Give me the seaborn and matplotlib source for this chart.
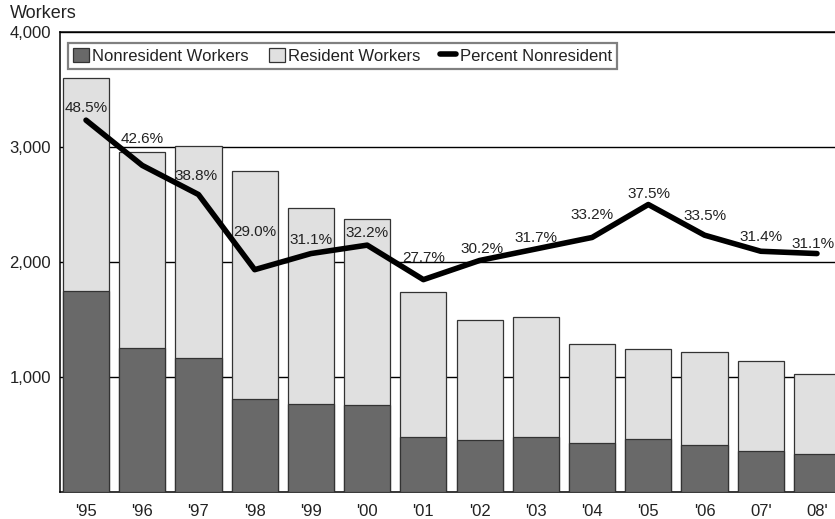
import matplotlib
matplotlib.use('Agg')
import matplotlib.pyplot as plt
import seaborn as sns
import numpy as np
import pandas as pd
from matplotlib.patches import Patch
from matplotlib.lines import Line2D

# ---- data ----
years = ["'95", "'96", "'97", "'98", "'99", "'00", "'01", "'02", "'03", "'04", "'05", "'06", "07'", "08'"]
nonresident_workers = [1745, 1255, 1165, 805, 765, 760, 475, 450, 480, 425, 465, 405, 355, 330]
resident_workers = [1855, 1705, 1845, 1990, 1705, 1615, 1265, 1045, 1045, 865, 775, 810, 780, 700]
percent_nonresident = [48.5, 42.6, 38.8, 29.0, 31.1, 32.2, 27.7, 30.2, 31.7, 33.2, 37.5, 33.5, 31.4, 31.1]
percent_labels = ["48.5%", "42.6%", "38.8%", "29.0%", "31.1%", "32.2%", "27.7%",
                  "30.2%", "31.7%", "33.2%", "37.5%", "33.5%", "31.4%", "31.1%"]
y_ticks = [1000, 2000, 3000, 4000]
y_tick_labels = ["1,000", "2,000", "3,000", "4,000"]
legend_labels = ["Nonresident Workers", "Resident Workers", "Percent Nonresident"]

# ---- style ----
label_offsets_px = [(0, 12), (0, 26), (-2, 19), (0, 38), (0, 14), (0, 12), (0, 22),
                    (2, 11), (0, 11), (0, 22), (1, 11), (0, 19), (0, 14), (-4, 10)]
dark = '#696969'
light = '#e0e0e0'
edge = '#333333'
FS_TICK = 12
FS_LEG = 12
FS_LAB = 11
FS_TITLE = 13

sns.set_style('white')
plt.rcParams['font.family'] = ['Liberation Sans', 'DejaVu Sans']

W, H = 835, 519
fig = plt.figure(figsize=(W / 100, H / 100), dpi=100)
ax_left, ax_right, ax_top, ax_bottom = 60, 843, 32, 492
ax = fig.add_axes([ax_left / W, (H - ax_bottom) / H, (ax_right - ax_left) / W, (ax_bottom - ax_top) / H])

df = pd.DataFrame({'year': years,
                   'nonres': nonresident_workers,
                   'res': resident_workers})
df['total'] = df['nonres'] + df['res']

sns.barplot(data=df, x='year', y='total', order=years, color=light, saturation=1,
            edgecolor=edge, linewidth=0.9, width=0.82, errorbar=None, ax=ax, zorder=2)
sns.barplot(data=df, x='year', y='nonres', order=years, color=dark, saturation=1,
            edgecolor=edge, linewidth=0.9, width=0.82, errorbar=None, ax=ax, zorder=3)

ax.set_ylim(0, 4000)
ax.set_xlim(-0.4626, 13.4626)
ax.set_yticks(y_ticks, y_tick_labels)
ax.set_xlabel('')
ax.set_ylabel('')
ax.tick_params(axis='y', length=0, pad=6.5, labelsize=FS_TICK, colors='#222222')
ax.tick_params(axis='x', length=0, pad=8.5, labelsize=FS_TICK, colors='#222222')
ax.set_axisbelow(True)
ax.yaxis.grid(True, color='black', lw=1.0)
ax.xaxis.grid(False)
for s in ['top', 'left', 'bottom', 'right']:
    ax.spines[s].set_color('black')
    ax.spines[s].set_linewidth(1.1)

ax2 = ax.twinx()
sns.lineplot(x=np.arange(len(years)), y=percent_nonresident, ax=ax2, color='black',
             lw=4.0, sort=False, legend=False)
ax2.set_ylim(0, 60)
ax2.set_xlim(ax.get_xlim())
ax2.set_yticks([])
ax2.set_ylabel('')
for s in ax2.spines.values():
    s.set_visible(False)

for i, (p, lab) in enumerate(zip(percent_nonresident, percent_labels)):
    ax2.annotate(lab, xy=(i, p), xytext=label_offsets_px[i], textcoords='offset pixels',
                 ha='center', va='center', fontsize=FS_LAB, color='#222222')

handles = [Patch(facecolor=dark, edgecolor=edge, lw=0.9),
           Patch(facecolor=light, edgecolor=edge, lw=0.9),
           Line2D([], [], color='black', lw=4)]
leg = ax2.legend(handles, legend_labels, ncol=3, loc='upper left',
                 bbox_to_anchor=((68 - ax_left) / (ax_right - ax_left), (ax_bottom - 43) / (ax_bottom - ax_top)),
                 frameon=True, fancybox=False, edgecolor='#808080', framealpha=1,
                 borderpad=0.3, handlelength=0.95, handleheight=0.95, handletextpad=0.2,
                 columnspacing=1.2, borderaxespad=0, fontsize=FS_LEG)
leg.get_frame().set_linewidth(1.6)
for t in leg.get_texts():
    t.set_color('#222222')

fig.text(10 / W, 1 - 14 / H, 'Workers', ha='left', va='center', fontsize=FS_TITLE, color='#222222')

fig.savefig('out.png', dpi=100)
